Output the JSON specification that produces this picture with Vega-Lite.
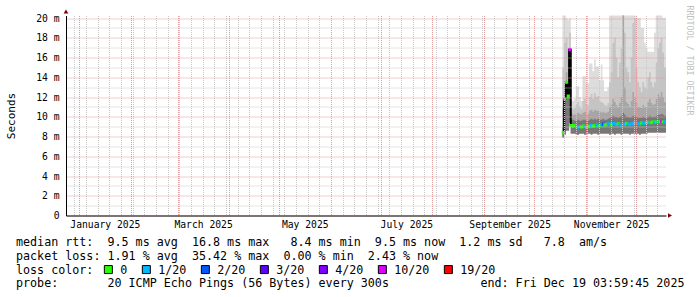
{
  "$schema": "https://vega.github.io/schema/vega-lite/v6.json",
  "width": 600,
  "height": 200,
  "autosize": {"type": "none"},
  "padding": {"left": 66, "top": 15.5, "right": 31, "bottom": 81.5},
  "background": "white",
  "config": {
    "view": {"stroke": null},
    "font": "DejaVu Sans Mono",
    "axis": {"labelFont": "DejaVu Sans Mono", "titleFont": "DejaVu Sans Mono", "labelColor": "black", "titleColor": "black", "titleFontWeight": "normal"}
  },
  "title": {
    "text": [
      "median\u00a0rtt:\u00a0\u00a09.5\u00a0ms\u00a0avg\u00a0\u00a016.8\u00a0ms\u00a0max\u00a0\u00a0\u00a08.4\u00a0ms\u00a0min\u00a0\u00a09.5\u00a0ms\u00a0now\u00a0\u00a01.2\u00a0ms\u00a0sd\u00a0\u00a0\u00a07.8\u00a0\u00a0am/s",
      "packet\u00a0loss:\u00a01.91\u00a0%\u00a0avg\u00a0\u00a035.42\u00a0%\u00a0max\u00a0\u00a00.00\u00a0%\u00a0min\u00a0\u00a02.43\u00a0%\u00a0now"
    ],
    "subtitle": "probe:\u00a0\u00a0\u00a0\u00a0\u00a0\u00a0\u00a020\u00a0ICMP\u00a0Echo\u00a0Pings\u00a0(56\u00a0Bytes)\u00a0every\u00a0300s\u00a0\u00a0\u00a0\u00a0\u00a0\u00a0\u00a0\u00a0\u00a0\u00a0\u00a0\u00a0\u00a0end:\u00a0Fri\u00a0Dec\u00a019\u00a003:59:45\u00a02025",
    "orient": "bottom",
    "anchor": "start",
    "frame": "group",
    "dx": -50,
    "dy": -44,
    "offset": 4,
    "font": "DejaVu Sans Mono",
    "fontSize": 11.7,
    "fontWeight": "normal",
    "lineHeight": 14,
    "baseline": "top",
    "color": "black",
    "subtitleFont": "DejaVu Sans Mono",
    "subtitleFontSize": 11.7,
    "subtitleColor": "black",
    "subtitlePadding": 16
  },
  "data": {"values": [
    {"t":"2025-10-18T00:00","lo":7.9,"d":9.0,"g":11.0,"l":15.0,"hi":20.3,"med":8.4,"loss":"0"},
    {"t":"2025-10-19T00:00","lo":8.2,"d":11.8,"g":13.0,"l":17.5,"hi":20.3,"med":11.8,"loss":"0"},
    {"t":"2025-10-20T00:00","lo":8.6,"d":13.5,"g":14.5,"l":18.0,"hi":20.0,"med":13.5,"loss":"0"},
    {"t":"2025-10-21T00:00","lo":8.6,"d":12.1,"g":13.5,"l":17.0,"hi":19.8,"med":12.1,"loss":"0"},
    {"t":"2025-10-22T00:00","lo":9.4,"d":16.8,"g":17.0,"l":18.5,"hi":20.0,"med":16.8,"loss":"10/20"},
    {"t":"2025-10-23T00:00","lo":8.3,"d":9.7,"g":10.3,"l":10.9,"hi":11.6,"med":9.10,"loss":"0"},
    {"t":"2025-10-24T00:00","lo":8.3,"d":9.7,"g":10.2,"l":10.8,"hi":11.6,"med":9.05,"loss":"0"},
    {"t":"2025-10-25T00:00","lo":8.3,"d":9.6,"g":10.2,"l":10.9,"hi":11.8,"med":9.12,"loss":"0"},
    {"t":"2025-10-26T00:00","lo":8.2,"d":9.6,"g":10.3,"l":11.2,"hi":13.1,"med":9.00,"loss":"1/20"},
    {"t":"2025-10-27T00:00","lo":8.2,"d":9.7,"g":10.4,"l":11.5,"hi":13.1,"med":8.95,"loss":"1/20"},
    {"t":"2025-10-28T00:00","lo":8.3,"d":9.6,"g":10.3,"l":11.0,"hi":12.0,"med":9.02,"loss":"1/20"},
    {"t":"2025-10-29T00:00","lo":8.3,"d":9.6,"g":10.2,"l":10.8,"hi":11.6,"med":8.98,"loss":"0"},
    {"t":"2025-10-30T00:00","lo":8.3,"d":9.7,"g":10.4,"l":11.6,"hi":14.1,"med":9.05,"loss":"0"},
    {"t":"2025-10-31T00:00","lo":8.2,"d":9.7,"g":10.5,"l":11.8,"hi":14.1,"med":9.00,"loss":"1/20"},
    {"t":"2025-11-01T00:00","lo":8.3,"d":9.6,"g":10.3,"l":11.3,"hi":13.4,"med":8.95,"loss":"0"},
    {"t":"2025-11-02T00:00","lo":8.3,"d":9.6,"g":10.3,"l":11.2,"hi":13.4,"med":9.00,"loss":"0"},
    {"t":"2025-11-03T00:00","lo":8.3,"d":9.7,"g":10.6,"l":12.0,"hi":15.4,"med":9.05,"loss":"0"},
    {"t":"2025-11-04T00:00","lo":8.2,"d":9.8,"g":10.7,"l":12.3,"hi":15.4,"med":9.10,"loss":"1/20"},
    {"t":"2025-11-05T00:00","lo":8.3,"d":9.7,"g":10.5,"l":11.8,"hi":14.6,"med":9.05,"loss":"0"},
    {"t":"2025-11-06T00:00","lo":8.3,"d":9.8,"g":10.7,"l":12.4,"hi":15.8,"med":9.12,"loss":"0"},
    {"t":"2025-11-07T00:00","lo":8.3,"d":9.7,"g":10.6,"l":12.0,"hi":15.1,"med":9.15,"loss":"1/20"},
    {"t":"2025-11-08T00:00","lo":8.2,"d":9.8,"g":10.6,"l":12.1,"hi":15.1,"med":9.08,"loss":"1/20"},
    {"t":"2025-11-09T00:00","lo":8.3,"d":9.7,"g":10.5,"l":11.6,"hi":13.7,"med":9.12,"loss":"0"},
    {"t":"2025-11-10T00:00","lo":8.3,"d":9.7,"g":10.4,"l":11.5,"hi":15.3,"med":9.20,"loss":"1/20"},
    {"t":"2025-11-11T00:00","lo":8.3,"d":9.8,"g":10.5,"l":11.4,"hi":13.7,"med":9.25,"loss":"2/20"},
    {"t":"2025-11-12T00:00","lo":8.3,"d":9.7,"g":10.4,"l":11.2,"hi":12.6,"med":9.18,"loss":"0"},
    {"t":"2025-11-13T00:00","lo":8.3,"d":9.7,"g":10.4,"l":11.1,"hi":12.6,"med":9.22,"loss":"0"},
    {"t":"2025-11-14T00:00","lo":8.3,"d":9.8,"g":10.5,"l":11.4,"hi":13.0,"med":9.28,"loss":"1/20"},
    {"t":"2025-11-15T00:00","lo":8.2,"d":9.9,"g":11.0,"l":13.5,"hi":20.3,"med":9.25,"loss":"1/20"},
    {"t":"2025-11-16T00:00","lo":8.3,"d":10.0,"g":11.3,"l":14.5,"hi":20.3,"med":9.20,"loss":"0"},
    {"t":"2025-11-17T00:00","lo":8.3,"d":10.1,"g":11.8,"l":17.5,"hi":20.3,"med":9.30,"loss":"1/20"},
    {"t":"2025-11-18T00:00","lo":8.2,"d":10.0,"g":11.5,"l":18.0,"hi":20.3,"med":9.25,"loss":"1/20"},
    {"t":"2025-11-19T00:00","lo":8.3,"d":10.0,"g":11.2,"l":16.0,"hi":20.3,"med":9.22,"loss":"1/20"},
    {"t":"2025-11-20T00:00","lo":8.3,"d":9.9,"g":11.0,"l":14.0,"hi":20.3,"med":9.28,"loss":"0"},
    {"t":"2025-11-21T00:00","lo":8.3,"d":10.0,"g":11.4,"l":15.5,"hi":20.3,"med":9.20,"loss":"1/20"},
    {"t":"2025-11-22T00:00","lo":8.2,"d":10.1,"g":12.0,"l":17.0,"hi":20.3,"med":9.18,"loss":"1/20"},
    {"t":"2025-11-23T00:00","lo":8.3,"d":10.4,"g":20.3,"l":20.3,"hi":20.3,"med":9.25,"loss":"1/20"},
    {"t":"2025-11-24T00:00","lo":8.3,"d":10.2,"g":13.0,"l":18.5,"hi":20.3,"med":9.22,"loss":"1/20"},
    {"t":"2025-11-25T00:00","lo":8.3,"d":10.0,"g":11.5,"l":15.0,"hi":20.3,"med":9.30,"loss":"0"},
    {"t":"2025-11-26T00:00","lo":8.3,"d":10.0,"g":11.3,"l":14.5,"hi":20.3,"med":9.25,"loss":"1/20"},
    {"t":"2025-11-27T00:00","lo":8.2,"d":9.9,"g":11.0,"l":13.5,"hi":20.3,"med":9.22,"loss":"1/20"},
    {"t":"2025-11-28T00:00","lo":8.3,"d":10.0,"g":11.6,"l":16.0,"hi":20.3,"med":9.28,"loss":"1/20"},
    {"t":"2025-11-29T00:00","lo":8.3,"d":10.1,"g":12.5,"l":19.5,"hi":20.3,"med":9.30,"loss":"1/20"},
    {"t":"2025-11-30T00:00","lo":8.3,"d":10.1,"g":12.0,"l":20.0,"hi":20.3,"med":9.35,"loss":"0"},
    {"t":"2025-12-01T00:00","lo":8.3,"d":10.0,"g":11.4,"l":15.0,"hi":20.0,"med":9.30,"loss":"1/20"},
    {"t":"2025-12-02T00:00","lo":8.3,"d":9.9,"g":11.0,"l":13.5,"hi":20.0,"med":9.32,"loss":"1/20"},
    {"t":"2025-12-03T00:00","lo":8.2,"d":9.9,"g":11.0,"l":13.0,"hi":20.0,"med":9.28,"loss":"1/20"},
    {"t":"2025-12-04T00:00","lo":8.3,"d":9.9,"g":10.9,"l":12.5,"hi":19.0,"med":9.35,"loss":"0"},
    {"t":"2025-12-05T00:00","lo":8.3,"d":10.0,"g":11.2,"l":13.5,"hi":19.0,"med":9.38,"loss":"1/20"},
    {"t":"2025-12-06T00:00","lo":8.3,"d":9.9,"g":11.0,"l":13.0,"hi":17.5,"med":9.35,"loss":"1/20"},
    {"t":"2025-12-07T00:00","lo":8.3,"d":9.9,"g":11.0,"l":12.8,"hi":17.0,"med":9.40,"loss":"0"},
    {"t":"2025-12-08T00:00","lo":8.4,"d":10.0,"g":11.5,"l":14.0,"hi":16.6,"med":9.45,"loss":"0"},
    {"t":"2025-12-09T00:00","lo":8.4,"d":10.1,"g":11.8,"l":14.5,"hi":16.6,"med":9.40,"loss":"1/20"},
    {"t":"2025-12-10T00:00","lo":8.4,"d":10.0,"g":11.4,"l":13.5,"hi":16.6,"med":9.42,"loss":"0"},
    {"t":"2025-12-11T00:00","lo":8.4,"d":10.0,"g":11.2,"l":13.0,"hi":16.6,"med":9.48,"loss":"0"},
    {"t":"2025-12-12T00:00","lo":8.4,"d":10.0,"g":11.3,"l":13.5,"hi":18.5,"med":9.45,"loss":"1/20"},
    {"t":"2025-12-13T00:00","lo":8.4,"d":10.1,"g":11.8,"l":15.5,"hi":20.3,"med":9.50,"loss":"0"},
    {"t":"2025-12-14T00:00","lo":8.4,"d":10.2,"g":12.3,"l":17.0,"hi":20.3,"med":9.48,"loss":"1/20"},
    {"t":"2025-12-15T00:00","lo":8.4,"d":10.2,"g":12.0,"l":17.5,"hi":20.3,"med":9.52,"loss":"0"},
    {"t":"2025-12-16T00:00","lo":8.4,"d":10.3,"g":12.5,"l":18.0,"hi":20.3,"med":9.55,"loss":"10/20"},
    {"t":"2025-12-17T00:00","lo":8.4,"d":10.2,"g":12.0,"l":16.5,"hi":20.0,"med":9.50,"loss":"0"},
    {"t":"2025-12-18T00:00","lo":8.4,"d":10.1,"g":11.5,"l":15.0,"hi":20.0,"med":9.50,"loss":"1/20"},
    {"t":"2025-12-19T04:00","lo":8.4,"d":10.1,"g":11.5,"l":15.0,"hi":20.0,"med":9.50,"loss":"1/20"}
  ]},
  "encoding": {
    "x": {"field": "t", "type": "temporal", "scale": {"domain": [{"year": 2024, "month": 12, "date": 24}, {"year": 2025, "month": 12, "date": 19, "hours": 4}]}, "axis": null},
    "y": {"field": "lo", "type": "quantitative", "scale": {"domain": [0, 20.26], "nice": false}, "axis": null}
  },
  "layer": [
    {
      "mark": {"type": "area", "interpolate": "step-after", "color": "#dddddd", "clip": true},
      "encoding": {
        "x": {"field": "t", "type": "temporal", "scale": {"domain": [{"year": 2024, "month": 12, "date": 24}, {"year": 2025, "month": 12, "date": 19, "hours": 4}]},
              "axis": {"orient": "bottom", "tickCount": {"interval": "week", "step": 1}, "labels": false, "ticks": false, "domain": false, "title": null, "grid": true, "gridColor": "#c8c8c8", "gridDash": [1, 1], "gridWidth": 1, "gridOpacity": 1, "zindex": 1}},
        "y": {"field": "lo", "type": "quantitative", "scale": {"domain": [0, 20.26], "nice": false},
              "axis": {"orient": "left", "values": [1, 3, 5, 7, 9, 11, 13, 15, 17, 19], "labels": false, "ticks": false, "domain": false, "title": null, "grid": true, "gridColor": "#c8c8c8", "gridDash": [1, 1], "gridWidth": 1, "gridOpacity": 1, "zindex": 1}},
        "y2": {"field": "hi"}
      }
    },
    {
      "mark": {"type": "area", "interpolate": "step-after", "color": "#c4c4c4", "clip": true},
      "encoding": {"y2": {"field": "l"}}
    },
    {
      "mark": {"type": "area", "interpolate": "step-after", "color": "#a6a6a6", "clip": true},
      "encoding": {"y2": {"field": "g"}}
    },
    {
      "mark": {"type": "area", "interpolate": "step-after", "color": "#777777", "clip": true},
      "encoding": {
        "x": {"field": "t", "type": "temporal", "scale": {"domain": [{"year": 2024, "month": 12, "date": 24}, {"year": 2025, "month": 12, "date": 19, "hours": 4}]},
              "axis": {"orient": "bottom", "tickCount": {"interval": "month", "step": 1}, "labelExpr": "month(datum.value) % 2 == 0 ? timeFormat(datum.value, '%B %Y') : ''", "labelOffset": 25.5, "labelAlign": "center", "labelFontSize": 9.7, "labelPadding": 4, "labelOverlap": false, "labelFlush": false, "labelBound": false, "ticks": false, "domain": true, "domainColor": "black", "domainWidth": 1, "title": null, "grid": true, "gridColor": "#e49a9a", "gridDash": [1, 1], "gridWidth": 1, "gridOpacity": 1, "zindex": 1}},
        "y": {"field": "lo", "type": "quantitative", "scale": {"domain": [0, 20.26], "nice": false},
              "axis": {"orient": "left", "values": [0, 2, 4, 6, 8, 10, 12, 14, 16, 18, 20], "labelExpr": "datum.value == 0 ? '0\u00a0' : datum.value + '\u00a0m'", "labelFontSize": 9.7, "labelPadding": 7, "labelOverlap": false, "labelFlush": false, "ticks": false, "domain": true, "domainColor": "black", "domainWidth": 1, "grid": true, "gridColor": "#e49a9a", "gridDash": [1, 1], "gridWidth": 1, "gridOpacity": 1, "zindex": 1,
                        "title": "Seconds", "titleFontSize": 11, "titleX": -55, "titleY": 100, "titleAngle": 270, "titleAlign": "center", "titleBaseline": "middle"}},
        "y2": {"field": "d"}
      }
    },
    {
      "mark": {"type": "line", "interpolate": "step-after", "color": "#000000", "strokeWidth": 2, "clip": true},
      "encoding": {"y": {"field": "med", "type": "quantitative", "scale": {"domain": [0, 20.26], "nice": false}, "axis": null}}
    },
    {
      "mark": {"type": "point", "shape": "square", "filled": true, "size": 10, "opacity": 1, "clip": true},
      "encoding": {
        "x": {"field": "t", "type": "temporal", "timeUnit": "yearmonthdate", "bandPosition": 0.5, "scale": {"domain": [{"year": 2024, "month": 12, "date": 24}, {"year": 2025, "month": 12, "date": 19, "hours": 4}]}, "axis": null},
        "y": {"field": "med", "type": "quantitative", "scale": {"domain": [0, 20.26], "nice": false},
              "axis": {"orient": "right", "labels": false, "ticks": false, "domain": false, "grid": false, "title": "RRDTOOL / TOBI OETIKER", "titleAngle": 90, "titleX": 22, "titleY": 44.5, "titleAlign": "center", "titleBaseline": "middle", "titleColor": "#c0c0c0", "titleFontSize": 8.3}},
        "color": {"field": "loss", "type": "nominal",
                  "scale": {"domain": ["0", "1/20", "2/20", "3/20", "4/20", "10/20", "19/20"], "range": ["#26ff00", "#00b8ff", "#0059ff", "#5e00ff", "#7e00ff", "#dd00ff", "#ff0000"]},
                  "legend": {"orient": "none", "legendX": -50, "legendY": 248, "direction": "horizontal", "title": "loss color:", "titleOrient": "left", "titlePadding": 8.5, "titleFont": "DejaVu Sans Mono", "titleFontSize": 11.7, "titleFontWeight": "normal", "titleColor": "black", "titleBaseline": "middle", "labelFont": "DejaVu Sans Mono", "labelFontSize": 11.7, "labelColor": "black", "labelOffset": 6, "columnPadding": 12, "symbolType": "square", "symbolSize": 64, "symbolStrokeColor": "black", "symbolStrokeWidth": 1, "symbolOpacity": 1}}
      }
    },
    {
      "data": {"values": [{"t": "2025-12-19T04:00", "v": 0}]},
      "mark": {"type": "point", "shape": "triangle-right", "filled": true, "color": "#800000", "size": 22, "opacity": 1, "xOffset": 4, "clip": false},
      "encoding": {
        "x": {"field": "t", "type": "temporal", "scale": {"domain": [{"year": 2024, "month": 12, "date": 24}, {"year": 2025, "month": 12, "date": 19, "hours": 4}]}, "axis": null},
        "y": {"field": "v", "type": "quantitative", "scale": {"domain": [0, 20.26], "nice": false}, "axis": null}
      }
    },
    {
      "data": {"values": [{"t": "2024-12-24T00:00", "v": 20.26}]},
      "mark": {"type": "point", "shape": "triangle-up", "filled": true, "color": "#800000", "size": 22, "opacity": 1, "yOffset": -4, "clip": false},
      "encoding": {
        "x": {"field": "t", "type": "temporal", "scale": {"domain": [{"year": 2024, "month": 12, "date": 24}, {"year": 2025, "month": 12, "date": 19, "hours": 4}]}, "axis": null},
        "y": {"field": "v", "type": "quantitative", "scale": {"domain": [0, 20.26], "nice": false}, "axis": null}
      }
    }
  ],
  "resolve": {"axis": {"x": "independent", "y": "independent"}}
}
